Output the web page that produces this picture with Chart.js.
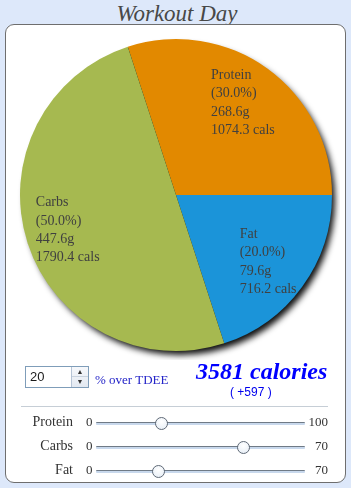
<!DOCTYPE html>
<html>
<head>
<meta charset="utf-8">
<script src="https://cdn.jsdelivr.net/npm/chart.js@4.4.0/dist/chart.umd.min.js"></script>
<style>
  html, body { margin: 0; padding: 0; }
  body { width: 351px; height: 488px; background: #dde8fa; position: relative; overflow: hidden; font-family: "Liberation Serif", serif; }
  #title { position: absolute; left: 0; width: 354px; top: 0; text-align: center; font: italic 23px "Liberation Serif", "DejaVu Serif", serif; color: #484848; line-height: 27px; }
  #panel { position: absolute; left: 5px; top: 24px; width: 339px; height: 457px; background: #fff; border: 1px solid #6e6e6e; border-radius: 9px; }
  #chartBox { position: absolute; left: 10px; top: 30px; width: 330px; height: 330px; }
  #spin { position: absolute; left: 25px; top: 366px; width: 62px; height: 20px; border: 1px solid #7f9db9; background: #fff; }
  #spin span { position: absolute; left: 4px; top: 2px; font: 13px "Liberation Sans", sans-serif; color: #1a1a1a; }
  #spin .btns { position: absolute; right: 0; top: 0; width: 16px; height: 20px; border-left: 1px solid #b6c4d6; background: linear-gradient(#f6f8fb, #e3e9f1); }
  #spin .btns div { height: 9px; border-bottom: 1px solid #c9d3df; text-align: center; font-size: 7px; line-height: 10px; color: #333; }
  #tdee { position: absolute; left: 95px; top: 372px; font: 13px "Liberation Serif", serif; color: #2424c8; }
  #cal { position: absolute; left: 196px; top: 358px; font: italic bold 24px "Liberation Serif", serif; color: #0000ff; }
  #diff { position: absolute; left: 230px; top: 385px; font: 12px "Liberation Sans", sans-serif; color: #0000ee; }
  #sep { position: absolute; left: 21px; top: 406px; width: 307px; height: 1px; background: #c6ced6; }
  .row { position: absolute; left: 0; width: 351px; height: 20px; }
  .row .lab { position: absolute; right: 278px; top: 2px; font: 14px "Liberation Serif", serif; color: #333; }
  .row .mn { position: absolute; left: 86px; top: 2px; font: 13px "Liberation Serif", serif; color: #333; }
  .row .mx { position: absolute; left: 305px; width: 23px; text-align: right; top: 2px; font: 13px "Liberation Serif", serif; color: #333; }
  .row .track { position: absolute; left: 96px; width: 209px; top: 10px; height: 1px; background: #6f7a86; border-bottom: 2px solid #c8d8ec; border-radius: 1px; }
  .row .thumb { position: absolute; top: 5px; width: 11px; height: 11px; margin-left: -6px; border: 1px solid #5e6875; border-radius: 50%; background: radial-gradient(circle at 50% 35%, #ffffff, #e4ecf5); }
</style>
</head>
<body>
<div id="title">Workout Day</div>
<div id="panel"></div>
<div id="chartBox"><canvas id="pie" width="330" height="330"></canvas></div>
<div id="spin"><span>20</span><div class="btns"><div>&#9650;</div><div style="border:none">&#9660;</div></div></div>
<div id="tdee">% over TDEE</div>
<div id="cal">3581 calories</div>
<div id="diff">( +597 )</div>
<div id="sep"></div>
<div id="sliders"></div>

<script>
// slice order is clockwise from the protein edge
const macros = ['Protein', 'Fat', 'Carbs'];
const percents = [30.0, 20.0, 50.0];
const grams = ['268.6', '79.6', '447.6'];
const calories = ['1074.3', '716.2', '1790.4'];
const sliceColors = ['#e28900', '#1b94d9', '#a6b950'];

const sliderNames = ['Protein', 'Carbs', 'Fat'];
const sliderValues = [30, 50, 20];
const sliderMax = [100, 70, 70];

// sliders under the chart
const sliderBox = document.getElementById('sliders');
sliderNames.forEach((name, i) => {
    const row = document.createElement('div');
    row.className = 'row';
    row.style.top = (412 + i * 24) + 'px';
    const pos = 101 + (sliderValues[i] / sliderMax[i]) * 199;
    row.innerHTML = '<span class="lab">' + name + '</span><span class="mn">0</span>' +
        '<div class="track"></div><div class="thumb" style="left:' + pos + 'px"></div>' +
        '<span class="mx">' + sliderMax[i] + '</span>';
    sliderBox.appendChild(row);
});

// sombra debajo del pastel
const shadowPlugin = {
    id: 'pieShadow',
    beforeDatasetsDraw(chart) {
        const arc = chart.getDatasetMeta(0).data[0];
        if (!arc) return;
        const ctx = chart.ctx;
        ctx.save();
        ctx.shadowColor = 'rgba(0,0,0,0.95)';
        ctx.shadowBlur = 6;
        ctx.shadowOffsetX = 4;
        ctx.shadowOffsetY = 5;
        ctx.beginPath();
        ctx.arc(arc.x, arc.y, arc.outerRadius - 1, 0, Math.PI * 2);
        ctx.fillStyle = '#000';
        ctx.fill();
        ctx.restore();
    }
};

// etiquetas dentro de cada porción
const labelPlugin = {
    id: 'sliceLabels',
    afterDatasetsDraw(chart) {
        const ctx = chart.ctx;
        const meta = chart.getDatasetMeta(0);
        ctx.save();
        ctx.font = '14px "Liberation Serif", serif';
        ctx.fillStyle = '#404040';
        ctx.textBaseline = 'middle';
        ctx.textAlign = 'left';
        meta.data.forEach((arc, i) => {
            const mid = (arc.startAngle + arc.endAngle) / 2;
            const r = arc.outerRadius * 0.73;
            const cx = arc.x + Math.cos(mid) * r;
            const cy = arc.y + Math.sin(mid) * r;
            const lines = [macros[i], '(' + percents[i].toFixed(1) + '%)', grams[i] + 'g', calories[i] + ' cals'];
            const w = Math.max(...lines.map(l => ctx.measureText(l).width));
            lines.forEach((line, j) => {
                ctx.fillText(line, cx - w / 2, cy + (j - 1.5) * 18.3);
            });
        });
        ctx.restore();
    }
};

new Chart(document.getElementById('pie').getContext('2d'), {
    type: 'pie',
    data: {
        labels: macros,
        datasets: [{
            data: percents,
            backgroundColor: sliceColors,
            borderWidth: 0
        }]
    },
    options: {
        responsive: false,
        animation: false,
        rotation: -18,
        layout: { padding: { left: 10, top: 9, right: 8, bottom: 9 } },
        plugins: {
            legend: { display: false },
            tooltip: { enabled: false }
        }
    },
    plugins: [shadowPlugin, labelPlugin]
});
</script>
</body>
</html>
